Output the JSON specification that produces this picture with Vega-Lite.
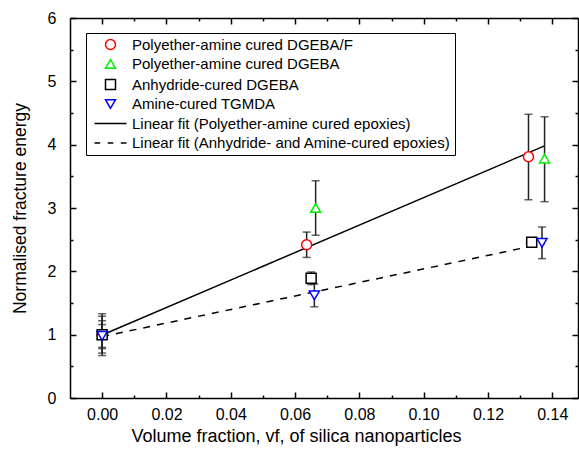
{
  "$schema": "https://vega.github.io/schema/vega-lite/v6.json",
  "autosize": {"type": "none"},
  "padding": {"left": 70, "top": 18, "right": 1, "bottom": 52},
  "width": 508,
  "height": 380,
  "background": "white",
  "config": {
    "view": {"stroke": null},
    "font": "Liberation Sans",
    "axis": {
      "domainColor": "black",
      "domainWidth": 1.5,
      "tickColor": "black",
      "tickWidth": 1.5,
      "labelColor": "black",
      "labelFont": "Liberation Sans",
      "labelFontSize": 16,
      "titleFont": "Liberation Sans",
      "titleFontSize": 17.5,
      "titleFontWeight": "normal",
      "titleColor": "black",
      "grid": false
    }
  },
  "datasets": {
    "pts": [
      {"series": "Polyether-amine cured DGEBA/F", "vf": 0.0, "G": 1.0, "lo": 0.67, "hi": 1.33},
      {"series": "Polyether-amine cured DGEBA/F", "vf": 0.0636, "G": 2.42, "lo": 2.22, "hi": 2.62},
      {"series": "Polyether-amine cured DGEBA/F", "vf": 0.1326, "G": 3.81, "lo": 3.13, "hi": 4.48},
      {"series": "Polyether-amine cured DGEBA", "vf": 0.0, "G": 1.0, "lo": 0.71, "hi": 1.29},
      {"series": "Polyether-amine cured DGEBA", "vf": 0.0664, "G": 3.0, "lo": 2.57, "hi": 3.43},
      {"series": "Polyether-amine cured DGEBA", "vf": 0.1376, "G": 3.78, "lo": 3.1, "hi": 4.44},
      {"series": "Anhydride-cured DGEBA", "vf": 0.0, "G": 1.0, "lo": 0.78, "hi": 1.22},
      {"series": "Anhydride-cured DGEBA", "vf": 0.065, "G": 1.89, "lo": 1.79, "hi": 1.99},
      {"series": "Anhydride-cured DGEBA", "vf": 0.1336, "G": 2.46, "lo": 2.42, "hi": 2.5},
      {"series": "Amine-cured TGMDA", "vf": 0.0, "G": 0.98, "lo": 0.8, "hi": 1.16},
      {"series": "Amine-cured TGMDA", "vf": 0.066, "G": 1.62, "lo": 1.44, "hi": 1.8},
      {"series": "Amine-cured TGMDA", "vf": 0.1368, "G": 2.45, "lo": 2.2, "hi": 2.7}
    ],
    "fits": [
      {"fit": "solid", "vf": 0.0, "G": 0.995},
      {"fit": "solid", "vf": 0.1376, "G": 3.98},
      {"fit": "dashed", "vf": 0.0, "G": 0.97},
      {"fit": "dashed", "vf": 0.1376, "G": 2.44}
    ]
  },
  "layer": [
    {
      "data": {"name": "fits"},
      "transform": [{"filter": "datum.fit === 'solid'"}],
      "mark": {"type": "line", "color": "black", "strokeWidth": 1.5},
      "encoding": {
        "x": {
          "field": "vf", "type": "quantitative",
          "scale": {"domain": [-0.01, 0.148], "nice": false, "zero": false},
          "axis": {
            "orient": "bottom",
            "title": "Volume fraction, vf, of silica nanoparticles",
            "titleFontSize": 18,
            "titlePadding": 5,
            "titleX": 226,
            "values": [0, 0.01, 0.02, 0.03, 0.04, 0.05, 0.06, 0.07, 0.08, 0.09, 0.1, 0.11, 0.12, 0.13, 0.14],
            "labelExpr": "round(datum.value*100) % 2 ? '' : format(datum.value, '.2f')",
            "tickSize": -6,
            "tickDash": {"condition": {"test": "round(datum.value*100) % 2 == 1", "value": [3, 10]}, "value": [10, 0]},
            "labelPadding": 14,
            "labelFlush": false,
            "labelOverlap": false
          }
        },
        "y": {
          "field": "G", "type": "quantitative",
          "scale": {"domain": [0, 6], "nice": false},
          "axis": {
            "orient": "left",
            "title": "Normalised fracture energy",
            "titlePadding": 18,
            "values": [0, 0.5, 1, 1.5, 2, 2.5, 3, 3.5, 4, 4.5, 5, 5.5, 6],
            "labelExpr": "datum.value % 1 ? '' : format(datum.value, 'd')",
            "tickSize": -6,
            "tickDash": {"condition": {"test": "datum.value % 1 != 0", "value": [3, 10]}, "value": [10, 0]},
            "labelPadding": 20,
            "labelFlush": false,
            "labelOverlap": false
          }
        }
      }
    },
    {
      "data": {"name": "fits"},
      "transform": [{"filter": "datum.fit === 'dashed'"}],
      "mark": {"type": "line", "color": "black", "strokeWidth": 1.5, "strokeDash": [7, 7]},
      "encoding": {
        "x": {
          "field": "vf", "type": "quantitative",
          "axis": {
            "orient": "top", "title": null, "labels": false,
            "values": [0, 0.01, 0.02, 0.03, 0.04, 0.05, 0.06, 0.07, 0.08, 0.09, 0.1, 0.11, 0.12, 0.13, 0.14],
            "tickSize": -6,
            "tickDash": {"condition": {"test": "round(datum.value*100) % 2 == 1", "value": [3, 10]}, "value": [10, 0]}
          }
        },
        "y": {
          "field": "G", "type": "quantitative",
          "axis": {
            "orient": "right", "title": null, "labels": false,
            "values": [0, 0.5, 1, 1.5, 2, 2.5, 3, 3.5, 4, 4.5, 5, 5.5, 6],
            "tickSize": -6,
            "tickDash": {"condition": {"test": "datum.value % 1 != 0", "value": [3, 10]}, "value": [10, 0]}
          }
        }
      }
    },
    {
      "data": {"name": "pts"},
      "mark": {"type": "rule", "color": "#222222", "strokeWidth": 1.5},
      "encoding": {
        "x": {"field": "vf", "type": "quantitative", "axis": null},
        "y": {"field": "lo", "type": "quantitative", "axis": null},
        "y2": {"field": "hi"}
      }
    },
    {
      "data": {"name": "pts"},
      "mark": {"type": "tick", "orient": "horizontal", "color": "#222222", "size": 8, "thickness": 1.5},
      "encoding": {
        "x": {"field": "vf", "type": "quantitative", "axis": null},
        "y": {"field": "lo", "type": "quantitative", "axis": null}
      }
    },
    {
      "data": {"name": "pts"},
      "mark": {"type": "tick", "orient": "horizontal", "color": "#222222", "size": 8, "thickness": 1.5},
      "encoding": {
        "x": {"field": "vf", "type": "quantitative", "axis": null},
        "y": {"field": "hi", "type": "quantitative", "axis": null}
      }
    },
    {
      "data": {"name": "pts"},
      "mark": {"type": "point", "filled": false, "fill": "white", "fillOpacity": 1, "opacity": 1, "size": 100, "strokeWidth": 1.5},
      "encoding": {
        "x": {"field": "vf", "type": "quantitative", "axis": null},
        "y": {"field": "G", "type": "quantitative", "axis": null},
        "color": {
          "field": "series", "type": "nominal",
          "scale": {
            "domain": ["Polyether-amine cured DGEBA/F", "Polyether-amine cured DGEBA", "Anhydride-cured DGEBA", "Amine-cured TGMDA", "Linear fit (Polyether-amine cured epoxies)", "Linear fit (Anhydride- and Amine-cured epoxies)"],
            "range": ["#ff0000", "#00ee00", "#000000", "#0000ff", "#000000", "#000000"]
          },
          "legend": {
            "orient": "none", "legendX": 16, "legendY": 15, "title": null,
            "strokeColor": "black", "padding": 4,
            "labelFont": "Liberation Sans", "labelFontSize": 15, "labelColor": "black", "labelLimit": 600,
            "symbolSize": 100, "symbolStrokeWidth": 1.5, "symbolFillColor": "white",
            "symbolOffset": 13, "labelOffset": 14, "rowPadding": 3.5
          }
        },
        "shape": {
          "field": "series", "type": "nominal",
          "scale": {
            "domain": ["Polyether-amine cured DGEBA/F", "Polyether-amine cured DGEBA", "Anhydride-cured DGEBA", "Amine-cured TGMDA", "Linear fit (Polyether-amine cured epoxies)", "Linear fit (Anhydride- and Amine-cured epoxies)"],
            "range": ["circle", "triangle-up", "square", "triangle-down", "M-3.2,0L3.2,0", "M-3.2,0H-2.06M-0.56,0H0.56M2.06,0H3.2"]
          }
        }
      }
    }
  ],
  "resolve": {"axis": {"x": "independent", "y": "independent"}}
}
